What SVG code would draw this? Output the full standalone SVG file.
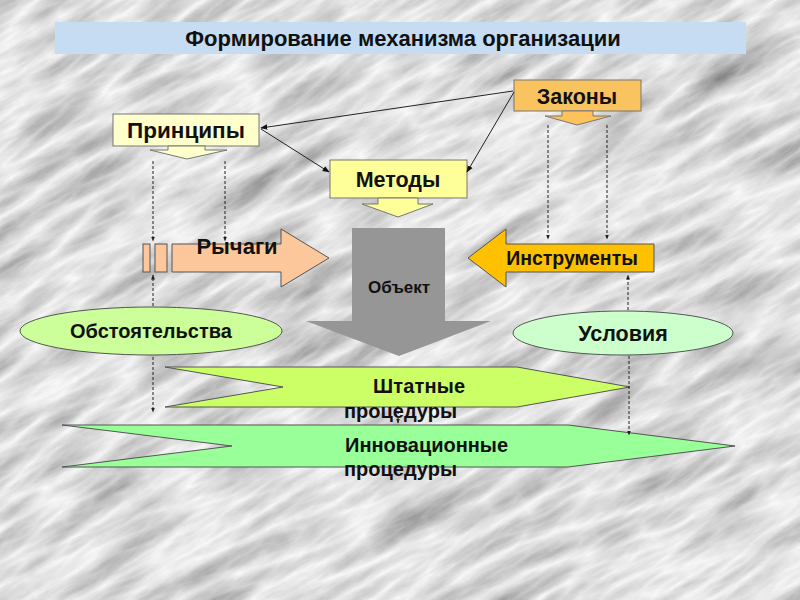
<svg xmlns="http://www.w3.org/2000/svg" width="800" height="600" viewBox="0 0 800 600">
<defs>
<filter id="marble" x="-400" y="-400" width="1600" height="1400" filterUnits="userSpaceOnUse">
<feTurbulence type="turbulence" baseFrequency="0.008 0.035" numOctaves="5" seed="11" result="t"/>
<feColorMatrix in="t" type="matrix" values="-0.75 0 0 0 0.97  -0.75 0 0 0 0.97  -0.75 0 0 0 0.97  0 0 0 0 1"/>
</filter>
<marker id="ah" viewBox="0 0 10 10" refX="9" refY="5" markerWidth="7" markerHeight="7" orient="auto-start-reverse">
<path d="M0 1 L10 5 L0 9 Z" fill="#111"/>
</marker>
<marker id="dh" viewBox="0 0 10 10" refX="9" refY="5" markerWidth="5" markerHeight="5" orient="auto-start-reverse">
<path d="M0 1 L10 5 L0 9 Z" fill="#222"/>
</marker>
</defs>
<style>
text{font-family:"Liberation Sans",Arial,sans-serif;font-weight:bold;fill:#111;}
.box{stroke:#777;stroke-width:1;}
.shp{stroke:#555;stroke-width:1;}
.con{stroke:#222;stroke-width:1;fill:none;}
.dash{stroke:#222;stroke-width:1;stroke-dasharray:3,2;fill:none;}
</style>
<rect width="800" height="600" fill="#dcdcdc"/>
<rect x="-300" y="-300" width="1400" height="1200" fill="#dcdcdc" filter="url(#marble)" transform="rotate(-30 400 300)"/>

<g id="title">
<rect x="55" y="22" width="691" height="32" fill="#c6dcf3"/>
<text x="403" y="46" font-size="22" text-anchor="middle">Формирование механизма организации</text>
</g>

<g id="principy">
<rect class="box" x="113" y="114" width="146" height="32" fill="#ffffcc"/>
<text x="186" y="138" font-size="22.5" text-anchor="middle">Принципы</text>
<path class="box" d="M168 146 L205 146 L205 150 L227 150 L187 159 L150 150 L168 150 Z" fill="#ffffcc"/>
</g>

<g id="zakony">
<rect class="box" x="514" y="80" width="127" height="31" fill="#f9c45f"/>
<text x="577" y="104" font-size="21.5" text-anchor="middle">Законы</text>
<path class="box" d="M562 111 L593 111 L593 116 L611 116 L577 125 L545 116 L562 116 Z" fill="#fdc25c"/>
</g>

<g id="metody">
<rect class="box" x="330" y="160" width="137" height="38" fill="#ffff99"/>
<text x="398" y="187" font-size="21.5" text-anchor="middle">Методы</text>
<path class="box" d="M378 198 L418 198 L418 204 L433 204 L398 217 L362 204 L378 204 Z" fill="#ffff99"/>
</g>

<g id="rychagi">
<rect class="shp" x="143" y="244" width="7" height="28" fill="#fcc89b"/>
<rect class="shp" x="155" y="244" width="12" height="28" fill="#fcc89b"/>
<path class="shp" d="M172 244 L281 244 L281 229 L329 258 L281 287 L281 272 L172 272 Z" fill="#fcc89b"/>
<text x="237" y="254" font-size="22" text-anchor="middle">Рычаги</text>
</g>

<g id="obekt">
<path d="M352 228 L445 228 L445 321 L491 321 L399 356 L306 321 L352 321 Z" fill="#969696"/>
<text x="399" y="293" font-size="17" text-anchor="middle">Объект</text>
</g>

<g id="instrumenty">
<path class="shp" d="M654 244 L506 244 L506 229 L468 258 L506 287 L506 272 L654 272 Z" fill="#ffc000"/>
<text x="572" y="265" font-size="19.5" text-anchor="middle">Инструменты</text>
</g>

<g id="obstoyatelstva">
<ellipse class="shp" cx="151" cy="331" rx="131" ry="24" fill="#ccff99"/>
<text x="151" y="338" font-size="20" text-anchor="middle">Обстоятельства</text>
</g>

<g id="usloviya">
<ellipse class="shp" cx="623" cy="333" rx="110" ry="22" fill="#ccffcc"/>
<text x="623" y="341" font-size="21.5" text-anchor="middle">Условия</text>
</g>

<g id="shtatnye">
<path class="shp" d="M165 367 L517 367 L630 387 L517 407 L165 407 L283 387 Z" fill="#ccff66"/>
<text x="373" y="393" font-size="20" textLength="92">Штатные</text>
<text x="344" y="418" font-size="20">процедуры</text>
</g>

<g id="innovatsionnye">
<path class="shp" d="M62 425 L568 425 L735 446 L568 467 L62 467 L232 446 Z" fill="#99ff99"/>
<text x="345" y="452" font-size="20">Инновационные</text>
<text x="344" y="476" font-size="20">процедуры</text>
</g>

<g id="connectors">
<line class="con" x1="513" y1="91" x2="261" y2="128" marker-end="url(#ah)"/>
<line class="con" x1="261" y1="129" x2="329" y2="172" marker-end="url(#ah)"/>
<line class="con" x1="514" y1="92" x2="467" y2="172" marker-end="url(#ah)"/>
<line class="dash" x1="153" y1="161" x2="153" y2="241" marker-end="url(#dh)"/>
<line class="dash" x1="225" y1="161" x2="225" y2="241" marker-end="url(#dh)"/>
<line class="dash" x1="548" y1="125" x2="548" y2="239" marker-end="url(#dh)"/>
<line class="dash" x1="607" y1="125" x2="607" y2="239" marker-end="url(#dh)"/>
<line class="dash" x1="153" y1="306" x2="153" y2="275" marker-end="url(#dh)"/>
<line class="dash" x1="628" y1="310" x2="628" y2="275" marker-end="url(#dh)"/>
<line class="dash" x1="153" y1="357" x2="153" y2="412" marker-end="url(#dh)"/>
<line class="dash" x1="629" y1="356" x2="629" y2="435" marker-end="url(#dh)"/>
<line class="dash" x1="398" y1="406" x2="398" y2="423" marker-end="url(#dh)"/>
</g>
</svg>
